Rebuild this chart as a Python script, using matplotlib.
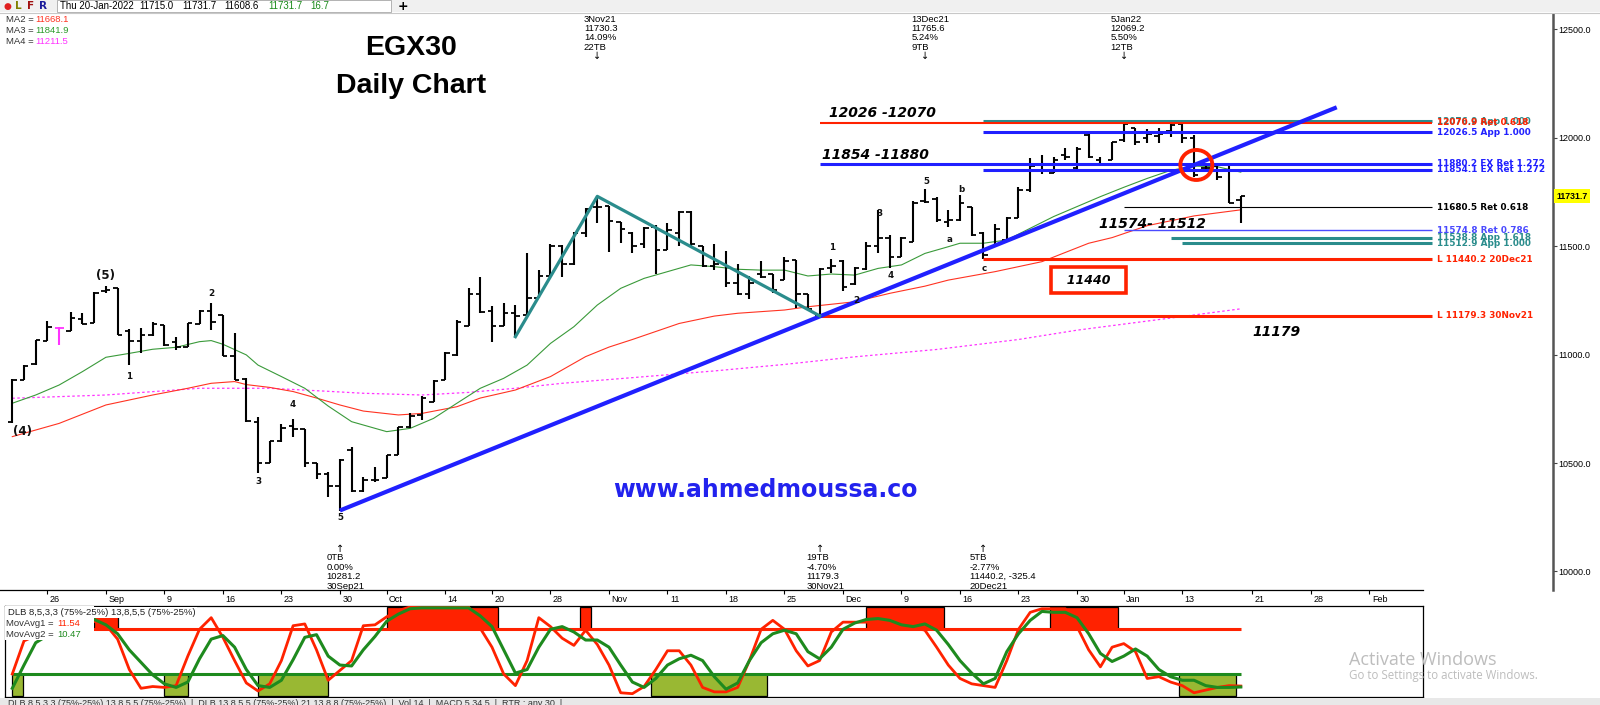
import matplotlib.pyplot as plt
from matplotlib.patches import Rectangle, Ellipse
from matplotlib.transforms import blended_transform_factory

plt.rcParams["font.family"] = ["DejaVu Sans"]

# ==============================
# Data (index = trading day, 23-Aug-2021 .. 20-Jan-2022)
# ==============================
opens = [10690, 10883, 10955, 11065, 11122, 11111, 11165, 11145, 11295, 11306,
         11110, 11065, 11090, 11137, 11060, 11037, 11140, 11200, 11183, 10995,
         10890, 10690, 10500, 10600, 10670, 10656, 10499, 10450, 10394, 10560,
         10370, 10420, 10430, 10537, 10665, 10720, 10783, 10883, 11000, 11134,
         11280, 11200, 11134, 11190, 11185, 11260, 11365, 11500, 11420, 11560,
         11680, 11685, 11613, 11560, 11510, 11590, 11485, 11560, 11660, 11500,
         11410, 11420, 11330, 11280, 11370, 11372, 11344, 11437, 11280, 11180,
         11400, 11430, 11325, 11395, 11500, 11540, 11452, 11521, 11710, 11720,
         11610, 11620, 11680, 11560, 11500, 11530, 11630, 11760, 11880, 11840,
         11920, 11860, 12015, 11900, 11900, 11990, 12044, 12000, 12010, 12030,
         12064, 12000, 11860, 11870, 11880, 11715.0]
highs = [10888, 10952, 11068, 11157, 11126, 11198, 11194, 11288, 11318, 11306,
         11117, 11121, 11149, 11137, 11083, 11145, 11206, 11237, 11183, 11098,
         10891, 10714, 10603, 10680, 10702, 10656, 10499, 10460, 10517, 10576,
         10437, 10483, 10537, 10668, 10729, 10809, 10883, 11014, 11160, 11306,
         11360, 11224, 11237, 11229, 11467, 11390, 11510, 11506, 11567, 11675,
         11730.3, 11686, 11614, 11567, 11590, 11598, 11606, 11664, 11664, 11501,
         11510, 11480, 11417, 11364, 11434, 11372, 11449, 11437, 11280, 11398,
         11440, 11437, 11403, 11521, 11667, 11552, 11544, 11710, 11765.6, 11729,
         11667, 11736, 11680, 11567, 11603, 11633, 11775, 11906, 11921, 11913,
         11952, 11956, 12018, 11910, 11982, 12069.2, 12044, 12039, 12044, 12064,
         12064, 12013, 11879, 11875, 11885, 11731.7]
lows = [10683, 10883, 10952, 11065, 11045, 11111, 11140, 11145, 11283, 11091,
        10952, 11006, 11086, 11040, 11022, 11037, 11140, 11114, 10994, 10883,
        10691, 10453, 10499, 10599, 10622, 10484, 10425, 10345, 10281.2, 10368,
        10368, 10414, 10430, 10537, 10660, 10699, 10783, 10883, 10994, 11134,
        11191, 11060, 11134, 11083, 11183, 11260, 11360, 11360, 11414, 11544,
        11606, 11475, 11514, 11467, 11490, 11372, 11483, 11501, 11501, 11406,
        11390, 11311, 11275, 11255, 11352, 11286, 11344, 11214, 11206, 11179.3,
        11375, 11295, 11321, 11390, 11467, 11398, 11452, 11521, 11698, 11613,
        11587, 11618, 11547, 11440.2, 11498, 11526, 11629, 11752, 11833, 11839,
        11898, 11855, 11906, 11875, 11898, 11982, 11967, 11978, 11978, 12006,
        11978, 11821, 11844, 11806, 11698, 11608.6]
closes = [10885, 10949, 11066, 11126, 11124, 11170, 11143, 11285, 11300, 11093,
          11065, 11090, 11140, 11045, 11035, 11145, 11200, 11150, 10996, 10885,
          10693, 10500, 10600, 10660, 10655, 10500, 10450, 10394, 10516, 10370,
          10420, 10420, 10535, 10665, 10715, 10800, 10880, 11010, 11150, 11280,
          11195, 11130, 11190, 11180, 11260, 11365, 11500, 11420, 11560, 11670,
          11683, 11615, 11580, 11501, 11585, 11483, 11575, 11660, 11510, 11410,
          11417, 11330, 11280, 11330, 11360, 11300, 11434, 11280, 11210, 11395,
          11410, 11310, 11400, 11500, 11537, 11450, 11540, 11700, 11705, 11620,
          11620, 11700, 11550, 11460, 11580, 11630, 11760, 11870, 11850, 11900,
          11910, 11950, 11910, 11880, 11980, 12065, 11980, 12020, 12020, 12060,
          12000, 11830, 11860, 11820, 11700, 11731.7]

# moving averages (sampled along the drawn curves)
ma3_x = [0, 2, 4, 6, 8, 10, 12, 14, 16, 17, 18, 20, 21, 23, 25, 27, 29, 32, 34, 36,
         38, 40, 42, 44, 46, 48, 50, 52, 54, 56, 58, 60, 62, 64, 66, 68, 70, 72, 74,
         76, 78, 80, 81, 83, 85, 87, 89, 91, 93, 95, 97, 99, 101, 103, 105]
ma3_y = [10776, 10814, 10860, 10922, 10988, 11006, 11025, 11034, 11060, 11065, 11048,
         10999, 10952, 10899, 10845, 10763, 10691, 10645, 10660, 10706, 10776, 10845,
         10891, 10952, 11052, 11129, 11229, 11306, 11352, 11383, 11414, 11406, 11394,
         11390, 11390, 11363, 11372, 11367, 11398, 11414, 11467, 11498, 11514, 11514,
         11529, 11583, 11637, 11683, 11729, 11772, 11813, 11850, 11870, 11867, 11841.9]
ma2_x = [0, 4, 8, 12, 15, 17, 19, 20, 22, 24, 26, 28, 30, 33, 35, 38, 40, 43, 46, 49,
         51, 53, 57, 60, 62, 66, 68, 72, 75, 78, 80, 84, 88, 92, 94, 97, 101, 105]
ma2_y = [10622, 10683, 10768, 10814, 10845, 10868, 10876, 10862, 10849, 10830, 10800,
         10768, 10740, 10722, 10729, 10760, 10800, 10837, 10899, 10991, 11035, 11070,
         11144, 11178, 11191, 11206, 11221, 11244, 11283, 11316, 11344, 11383, 11429,
         11514, 11540, 11595, 11640, 11668.1]
ma4_x = [0, 8, 16, 22, 27, 30, 35, 39, 43, 47, 53, 60, 66, 72, 79, 86, 91, 99, 105]
ma4_y = [10799, 10814, 10845, 10845, 10831, 10822, 10814, 10826, 10845, 10868, 10894,
         10925, 10955, 10990, 11024, 11070, 11113, 11169, 11211.5]

# DLB oscillator panel
osc_fast = [25, 62, 68, 70, 70, 72, 74, 84, 80, 64,
            30, 9, 11, 10, 12, 45, 75, 88, 66, 40,
            15, 6, 14, 40, 79, 81, 52, 18, 29, 40,
            79, 80, 89, 96, 100, 100, 100, 100, 100, 100,
            76, 55, 25, 12, 40, 88, 78, 65, 57, 74,
            58, 35, 4, 3, 11, 30, 51, 51, 35, 10,
            5, 5, 10, 40, 75, 85, 75, 51, 34, 40,
            72, 83, 83, 83, 82, 81, 80, 77, 74, 55,
            35, 20, 14, 12, 10, 40, 75, 94, 98, 98,
            98, 78, 52, 33, 55, 59, 50, 20, 22, 16,
            12, 4, 7, 10, 12, 11.54]
osc_slow = [9, 35, 60, 68, 72, 75, 79, 86, 80, 70,
            52, 38, 24, 14, 10, 16, 42, 64, 68, 55,
            30, 12, 10, 18, 41, 66, 69, 45, 35, 34,
            52, 67, 84, 92, 98, 99, 99, 99, 99, 99,
            90, 78, 52, 26, 30, 55, 75, 78, 72, 63,
            63, 55, 35, 16, 10, 20, 35, 42, 46, 40,
            22, 8, 15, 40, 60, 70, 74, 70, 50, 42,
            55, 75, 82, 86, 87, 85, 80, 78, 81, 74,
            58, 40, 26, 14, 20, 50, 70, 85, 95, 94,
            94, 88, 70, 48, 39, 45, 53, 45, 30, 22,
            18, 18, 12, 10, 10, 10.47]
ob_start = [7, 32, 48.5, 73, 88.7]
ob_end = [9, 41.5, 49.5, 79.6, 94.5]
os_start = [0, 13, 21, 54.6, 99.7]
os_end = [0.9, 15, 27, 64.5, 104.6]
band_hi, band_lo = 75, 25

# date axis
tick_pos = [3, 8, 13, 18, 23, 28, 32, 37, 41, 46, 51, 56, 61, 66, 71, 76, 81, 86,
            91, 95, 100, 106, 111, 116]
tick_lab = ["26", "Sep", "9", "16", "23", "30", "Oct", "14", "20", "28", "Nov", "11",
            "18", "25", "Dec", "9", "16", "23", "30", "Jan", "13", "21", "28", "Feb"]

# horizontal levels drawn on the chart
level_vals = [12076.9, 12070.9, 12026.5, 11880.2, 11854.1, 11680.5, 11574.8,
              11538.8, 11512.9, 11440.2, 11179.3]
level_labels = ["12076.9 App 1.000", "12070.9 Ret 0.618", "12026.5 App 1.000",
                "11880.2 EX Ret 1.272", "11854.1 EX Ret 1.272", "11680.5 Ret 0.618",
                "11574.8 Ret 0.786", "11538.8 App 1.618", "11512.9 App 1.000",
                "L 11440.2 20Dec21", "L 11179.3 30Nov21"]
level_start = [83, 69, 83, 69, 83, 95, 95, 99, 100, 83, 69]

# trend lines
trend_x = [28, 113.2]
trend_y = [10281.2, 12141]
zig_x = [43, 50, 69]
zig_y = [11083, 11730.3, 11179.3]

# swing annotations
top_bars = [50, 78, 95]
top_text = [["3Nov21", "11730.3", "14.09%", "22TB"],
            ["13Dec21", "11765.6", "5.24%", "9TB"],
            ["5Jan22", "12069.2", "5.50%", "12TB"]]
bot_bars = [28, 69, 83]
bot_text = [["0TB", "0.00%", "10281.2", "30Sep21"],
            ["19TB", "-4.70%", "11179.3", "30Nov21"],
            ["5TB", "-2.77%", "11440.2, -325.4", "20Dec21"]]

# wave counts
wave_lab = ["(5)", "(4)", "1", "2", "3", "4", "5", "1", "2", "3", "4", "5", "a", "b", "c"]
wave_x = [8, 0.9, 10, 17, 21, 24, 28, 70.1, 72.1, 74.1, 75.1, 78.1, 80.1, 81.1, 83.1]
wave_y = [11367, 10645, 10898, 11280, 10414, 10768, 10247, 11495, 11249, 11652,
          11363, 11798, 11529, 11760, 11398]

# ==============================
# Screen geometry (pixels of the original screenshot)
# ==============================
W, H = 1600, 705
BAR0_PX, BAR_PX = 12.3, 11.7
REF_Y, REF_V, PX_PER_PT = 122.7, 12070, 0.2168
PRICE_TOP, PRICE_BOT, PRICE_RIGHT = 14, 590, 1553
PANEL_TOP, PANEL_BOT, PANEL_LEFT, PANEL_RIGHT = 606, 697, 5, 1423
OSC_Y25, OSC_PX = 674, 0.894

RED = "#ff2200"
BLUE = "#2020ff"
TEAL = "#2a8c8c"
GREEN = "#1e8a1e"
MAGENTA = "#ff33ff"
SMALL = "Liberation Sans"


def px2bar(x):
    return (x - BAR0_PX) / BAR_PX


def px2val(y):
    return REF_V - (y - REF_Y) / PX_PER_PT


def px2osc(y):
    return band_lo + (OSC_Y25 - y) / OSC_PX


def fx(x):
    return x / W


def fy(y):
    return 1 - y / H


def ay(y):
    return (PRICE_BOT - y) / (PRICE_BOT - PRICE_TOP)


fig = plt.figure(figsize=(W / 100, H / 100), dpi=100)
fig.patch.set_facecolor("white")

# ==============================
# Price chart
# ==============================
ax = fig.add_axes([0, fy(PRICE_BOT), fx(PRICE_RIGHT), (PRICE_BOT - PRICE_TOP) / H])
ax.set_xlim(px2bar(0), px2bar(PRICE_RIGHT))
ax.set_ylim(px2val(PRICE_BOT), px2val(PRICE_TOP))
for s in ["left", "top", "bottom"]:
    ax.spines[s].set_visible(False)
ax.spines["right"].set_color("#555555")
ax.spines["right"].set_linewidth(1.8)
ax.set_xticks([])
ax.yaxis.tick_right()
ax.set_yticks(range(10000, 12501, 500))
ax.set_yticklabels([f"{v:.1f}" for v in range(10000, 12501, 500)])
ax.tick_params(axis="y", direction="out", length=3, width=0.8, color="#444444",
               labelsize=6.5, pad=1)
for t in ax.get_yticklabels():
    t.set_family(SMALL)

tx = blended_transform_factory(ax.transData, ax.transAxes)

# moving averages
ax.plot(ma4_x, ma4_y, color=MAGENTA, lw=0.9, ls=(0, (2, 2)), zorder=1)
ax.plot(ma2_x, ma2_y, color="#ff3322", lw=0.8, zorder=1)
ax.plot(ma3_x, ma3_y, color="#3a9a3a", lw=0.8, zorder=1)

# OHLC bars
idx = list(range(len(opens)))
magenta_bar = 4
bar_col = [MAGENTA if i == magenta_bar else "black" for i in idx]
ax.vlines(idx, lows, highs, colors=bar_col, lw=1.5, zorder=2)
ax.hlines(opens, [i - 0.38 for i in idx], idx, colors=bar_col, lw=1.3, zorder=2)
ax.hlines(closes, idx, [i + 0.38 for i in idx], colors=bar_col, lw=1.3, zorder=2)

# levels
level_colors = [TEAL, RED, BLUE, BLUE, BLUE, "black", "#4a4aff", TEAL, TEAL, RED, RED]
level_lw = [2.2, 1.5, 2.2, 2.2, 2.2, 0.8, 1.0, 2.2, 2.2, 2.2, 2.2]
line_end = px2bar(1432)
label_x = px2bar(1437)
for v, lab, x0, c, w in zip(level_vals, level_labels, level_start, level_colors, level_lw):
    ax.hlines(v, x0, line_end, colors=c, lw=w, zorder=3)
    ax.text(label_x, v, lab, color=c, fontsize=6.4, fontweight="bold",
            ha="left", va="center", zorder=6)

# trend lines
ax.plot(trend_x, trend_y, color=BLUE, lw=3.0, zorder=4, solid_capstyle="butt")
ax.plot(zig_x, zig_y, color=TEAL, lw=2.3, zorder=4)

# red circle around the break
ax.add_patch(Ellipse((101.2, 11875), width=32 / BAR_PX, height=30 / PX_PER_PT,
                     fill=False, edgecolor=RED, lw=2.8, zorder=5))

# bold italic price notes
note = dict(fontsize=10, fontweight="bold", fontstyle="italic", color="black",
            ha="left", va="center", zorder=6)
ax.text(69.8, 12114, "12026 -12070", **note)
ax.text(69.2, 11921, "11854 -11880", **note)
ax.text(92.9, 11602, "11574- 11512", **note)
ax.text(106.0, 11105, "11179", **note)
ax.text(92.0, 11344, "  11440  ", fontsize=9, fontweight="bold", fontstyle="italic",
        ha="center", va="center", zorder=6,
        bbox=dict(boxstyle="square,pad=0.55", facecolor="white", edgecolor=RED, lw=2.6))

# wave counts
for lab, x, y in zip(wave_lab, wave_x, wave_y):
    big = lab.startswith("(")
    ax.text(x, y, lab, fontsize=8.5 if big else 6.3, fontweight="bold",
            ha="center", va="center", color="#111111", zorder=6)

# swing annotations
for b, lines in zip(top_bars, top_text):
    for k, s in enumerate(lines):
        ax.text(b - 1.15, ay(19 + k * 9.4), s, transform=tx, fontsize=6.8,
                family=SMALL, ha="left", va="center")
    ax.text(b, ay(56), "\u2193", transform=tx, fontsize=7, ha="center", va="center")
for b, lines in zip(bot_bars, bot_text):
    ax.text(b, ay(549), "\u2191", transform=tx, fontsize=7, ha="center", va="center")
    for k, s in enumerate(lines):
        ax.text(b - 1.15, ay(558 + k * 9.4), s, transform=tx, fontsize=6.8,
                family=SMALL, ha="left", va="center")

# current price tag
ax.text(1.002, closes[-1], f"{closes[-1]:.1f}", transform=ax.get_yaxis_transform(),
        fontsize=6.3, family=SMALL, fontweight="bold", ha="left", va="center",
        bbox=dict(boxstyle="square,pad=0.25", facecolor="#ffff00", edgecolor="none"),
        clip_on=False, zorder=7)

# ==============================
# Date strip
# ==============================
axd = fig.add_axes([0, fy(PANEL_TOP), fx(PANEL_RIGHT), (PANEL_TOP - PRICE_BOT) / H])
axd.set_xlim(px2bar(0), px2bar(PANEL_RIGHT))
axd.set_ylim(0, 1)
for s in ["left", "right", "bottom"]:
    axd.spines[s].set_visible(False)
axd.spines["top"].set_linewidth(0.9)
axd.set_yticks([])
axd.set_xticks(tick_pos)
axd.xaxis.set_ticks_position("top")
axd.tick_params(axis="x", direction="in", length=3, width=0.8,
                labeltop=False, labelbottom=False)
td = blended_transform_factory(axd.transData, axd.transAxes)
for p, lab in zip(tick_pos, tick_lab):
    axd.text(p + 0.2, 0.42, lab, transform=td, fontsize=6.5, family=SMALL,
             ha="left", va="center")

# ==============================
# DLB oscillator panel
# ==============================
axi = fig.add_axes([fx(PANEL_LEFT), fy(PANEL_BOT), fx(PANEL_RIGHT - PANEL_LEFT),
                    (PANEL_BOT - PANEL_TOP) / H])
axi.set_xlim(px2bar(PANEL_LEFT), px2bar(PANEL_RIGHT))
axi.set_ylim(px2osc(PANEL_BOT), px2osc(PANEL_TOP))
axi.set_xticks([])
axi.set_yticks([])
for s in axi.spines.values():
    s.set_linewidth(0.9)

for a, b in zip(ob_start, ob_end):
    axi.add_patch(Rectangle((a, band_hi), b - a, 100 - band_hi, facecolor=RED,
                            edgecolor="black", lw=0.9, zorder=1))
for a, b in zip(os_start, os_end):
    axi.add_patch(Rectangle((a, 0), b - a, band_lo, facecolor="#99b833",
                            edgecolor="black", lw=0.9, zorder=1))
axi.hlines(band_hi, 0, idx[-1], colors=RED, lw=2.2, zorder=2)
axi.hlines(band_lo, 0, idx[-1], colors=GREEN, lw=2.2, zorder=2)
axi.plot(idx, osc_fast, color=RED, lw=2.0, zorder=3)
axi.plot(idx, osc_slow, color=GREEN, lw=2.2, zorder=3)

# legend block hides what runs under it
axi.add_patch(Rectangle((0, (PANEL_BOT - 640) / (PANEL_BOT - PANEL_TOP)),
                        (94 - PANEL_LEFT) / (PANEL_RIGHT - PANEL_LEFT), 1,
                        transform=axi.transAxes, facecolor="white", edgecolor="none",
                        zorder=4))
fig.text(fx(8), fy(612.5), "DLB 8,5,3,3 (75%-25%) 13,8,5,5 (75%-25%)", fontsize=6.8,
         family=SMALL, va="center", color="#222222",
         bbox=dict(boxstyle="square,pad=0.15", facecolor="white", edgecolor="none"),
         zorder=5)
fig.text(fx(6), fy(623.5), "MovAvg1 =", fontsize=6.8, family=SMALL, va="center",
         color="#333333", zorder=5)
fig.text(fx(57), fy(623.5), f"{osc_fast[-1]:.2f}", fontsize=6.8, family=SMALL,
         va="center", color=RED, zorder=5)
fig.text(fx(6), fy(634.5), "MovAvg2 =", fontsize=6.8, family=SMALL, va="center",
         color="#333333", zorder=5)
fig.text(fx(57), fy(634.5), f"{osc_slow[-1]:.2f}", fontsize=6.8, family=SMALL,
         va="center", color=GREEN, zorder=5)

# ==============================
# Screen furniture: toolbar, legend, titles, tabs
# ==============================
fig.patches.append(Rectangle((0, fy(12)), 1, 12 / H, transform=fig.transFigure,
                             facecolor="#f0f0f0", edgecolor="none"))
fig.patches.append(Rectangle((fx(57), fy(11.5)), fx(334), 11 / H,
                             transform=fig.transFigure, facecolor="white",
                             edgecolor="#a8a8a8", lw=0.6))
fig.add_artist(plt.Line2D([0, 1], [fy(12.5), fy(12.5)], transform=fig.transFigure,
                          color="#c8c8c8", lw=0.8))
bar_items = [("\u25cf", 7, "#e02020"), ("L", 18, "#808000"), ("F", 31, "#a01010"),
             ("R", 43, "#1a1a9a")]
for s, x, c in bar_items:
    fig.text(fx(x), fy(6), s, fontsize=6.5 if s == "\u25cf" else 7.5,
             fontweight="bold", color=c, va="center", ha="center")
quote = [("Thu 20-Jan-2022", 60, "black"), (f"{opens[-1]:.1f}", 139, "black"),
         (f"{highs[-1]:.1f}", 182, "black"), (f"{lows[-1]:.1f}", 224, "black"),
         (f"{closes[-1]:.1f}", 268, "#1a8a1a"), ("16.7", 310, "#1a8a1a")]
for s, x, c in quote:
    fig.text(fx(x), fy(6), s, fontsize=7, family=SMALL, color=c, va="center")
fig.text(fx(403), fy(6), "+", fontsize=9, fontweight="bold", va="center", ha="center")

ma_rows = [("MA2", 11668.1, "#ff3322"), ("MA3", 11841.9, "#2a9a2a"),
           ("MA4", 11211.5, "#ff33ff")]
for k, (name, val, c) in enumerate(ma_rows):
    y = 19 + k * 11.5
    fig.text(fx(6), fy(y), f"{name} =", fontsize=6.8, family=SMALL, color="#333333",
             va="center")
    fig.text(fx(35), fy(y), f"{val:.1f}", fontsize=6.8, family=SMALL, color=c,
             va="center")

fig.text(fx(411), fy(48), "EGX30", fontsize=20.5, fontweight="bold",
         family="Liberation Sans", ha="center", va="center")
fig.text(fx(411), fy(86), "Daily Chart", fontsize=20.5, fontweight="bold",
         family="Liberation Sans", ha="center", va="center")
fig.text(fx(765), fy(490), "www.ahmedmoussa.co", fontsize=17, fontweight="bold",
         color="#2222ee", ha="center", va="center")

fig.patches.append(Rectangle((0, 0), 1, fy(698), transform=fig.transFigure,
                             facecolor="#e8e8e8", edgecolor="none"))
fig.text(fx(8), fy(698.5),
         "DLB 8,5,3,3 (75%-25%) 13,8,5,5 (75%-25%)  |  DLB 13,8,5,5 (75%-25%) "
         "21,13,8,8 (75%-25%)  |  Vol 14  |  MACD 5,34,5  |  RTR : any 30  |",
         fontsize=6.5, family=SMALL, va="top", color="#333333")

fig.text(fx(1349), fy(660), "Activate Windows", fontsize=13, family="Open Sans",
         color="#bdbdbd", va="center", zorder=10)
fig.text(fx(1349), fy(676), "Go to Settings to activate Windows.", fontsize=8.3,
         family="Open Sans", color="#bdbdbd", va="center", zorder=10)

fig.savefig("out.png", dpi=100)
